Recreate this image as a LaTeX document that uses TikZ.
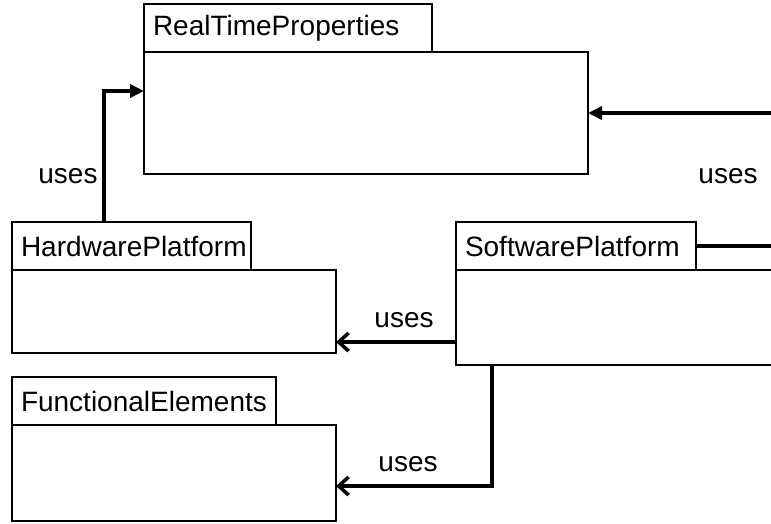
\documentclass[tikz,border=0pt]{standalone}
\usepackage{fontspec}
\setmainfont{Liberation Sans}
\usetikzlibrary{arrows.meta,positioning}

\tikzset{
  bodybox/.style={draw, line width=1.3pt, outer sep=0pt, inner sep=0pt, anchor=north west},
  tabbox/.style={draw, line width=1.3pt, outer sep=0pt, inner xsep=9pt, inner ysep=0pt,
    minimum height=48pt, align=left, text width=#1, font=\fontsize{28}{32}\selectfont},
  usesLbl/.style={font=\fontsize{28}{32}\selectfont, inner sep=0pt},
  usesFilled/.style={line width=3.5pt, -{Triangle[length=14pt,width=13pt]}},
  usesOpen/.style={line width=3.5pt, -{Straight Barb[length=10pt,width=18pt]}},
  usesPlain/.style={line width=3.5pt}
}

\begin{document}
\begin{tikzpicture}[x=1pt,y=-1pt]

    % Cadre
    \useasboundingbox (0,0) rectangle (771,523);
    \clip (0,0) rectangle (771,523);

    % ---- Paquets ----
    \node[bodybox, minimum width=444pt, minimum height=122pt] (rtp) at (144,52) {};
    \node[tabbox=270pt, above right=0pt of rtp.north west] (rtpTab) {RealTimeProperties};

    \node[bodybox, minimum width=324pt, minimum height=83pt] (hw) at (12,270) {};
    \node[tabbox=221pt, above right=0pt of hw.north west] (hwTab) {HardwarePlatform};

    \node[bodybox, minimum width=360pt, minimum height=95pt] (sw) at (456,270) {};
    \node[tabbox=222pt, above right=0pt of sw.north west] (swTab) {SoftwarePlatform};

    \node[bodybox, minimum width=324pt, minimum height=96pt] (fe) at (12,425) {};
    \node[tabbox=246pt, above right=0pt of fe.north west] (feTab) {FunctionalElements};

    % ---- Dépendances ----
    \coordinate (hwOut) at ([xshift=92pt]hwTab.north west);
    \draw[usesFilled] (hwOut) |- ([yshift=-39pt]rtp.north west);
    \node[usesLbl] (lblHw) at (68,176) {uses};

    \draw[usesPlain] (swTab.east) -- ++(120,0) coordinate (swTurn);
    \draw[usesFilled] (swTurn) |- (rtp.east);
    \node[usesLbl] (lblSw) at (728,176) {uses};

    \coordinate (swOut) at ([yshift=-72pt]sw.north west);
    \draw[usesOpen] (swOut) -- (swOut -| hw.east);
    \node[usesLbl] (lblSwHw) at (404,320) {uses};

    \coordinate (swDown) at ([xshift=36pt]sw.south west);
    \draw[usesOpen] (swDown) |- ([yshift=-61pt]fe.north east);
    \node[usesLbl] (lblSwFe) at (408,464) {uses};

\end{tikzpicture}
\end{document}
